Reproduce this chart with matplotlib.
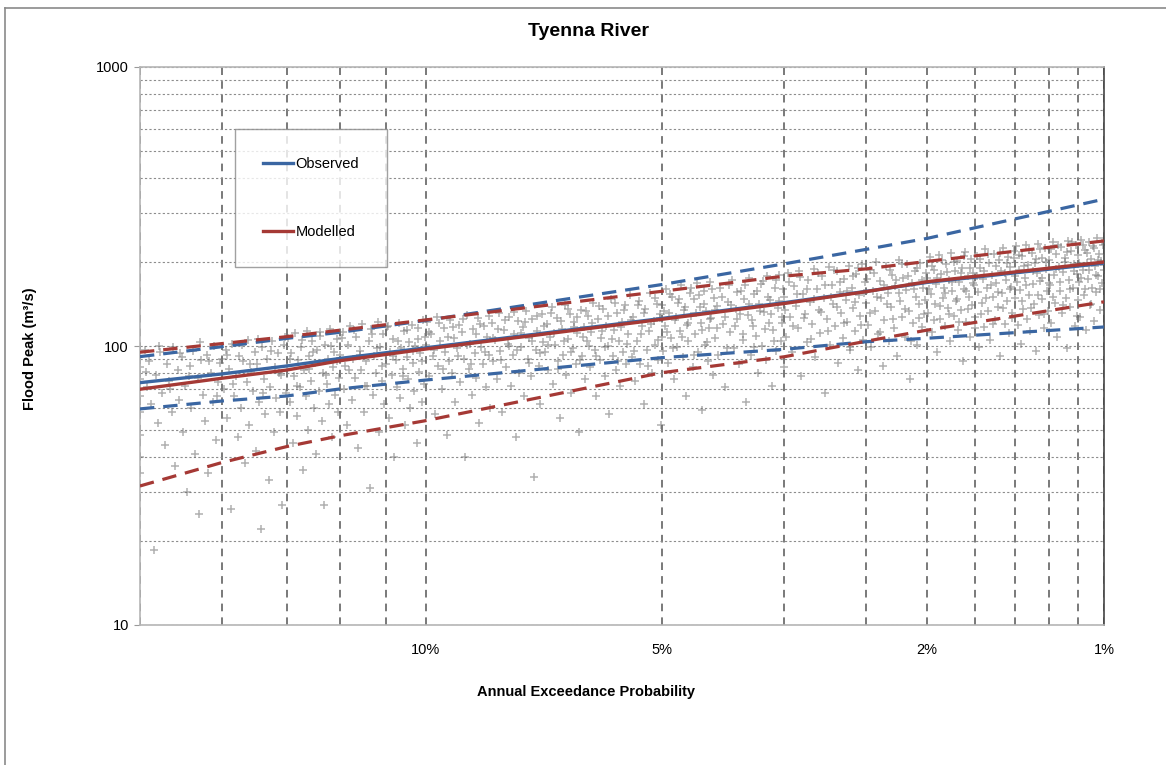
import numpy as np
import matplotlib
matplotlib.use("Agg")
import matplotlib.pyplot as plt
from matplotlib.lines import Line2D
from matplotlib.ticker import FixedLocator, NullFormatter
from statistics import NormalDist

plt.rcParams['font.family'] = ['Liberation Sans', 'DejaVu Sans']

# Fitted curves, flood peak (m3/s) against average recurrence interval (years)
curve_ari = [5, 6, 7, 8, 10, 20, 30, 40, 50, 100]
observed = [73.9, 79.4, 84.8, 90.3, 98.5, 125.5, 143, 157, 169, 198]
observed_upper = [91.6, 99.4, 106.5, 112, 123.5, 166, 197, 222, 243, 336]
observed_lower = [59.5, 63.5, 66.2, 70.2, 75.5, 90.8, 97.3, 103.6, 106.6, 117]
modelled = [70.0, 76.6, 82.0, 88.6, 97.5, 124.6, 142, 156.6, 170, 200]
modelled_upper = [95, 102, 108, 114, 124, 157, 178, 189, 201, 238]
modelled_lower = [31.5, 38.2, 43.6, 47.7, 54.0, 80.2, 91.5, 104, 114, 144]

# Simulated flood peaks (ARI, m3/s)
sim_points = [
    (5.0, 92), (5.0, 84), (5.0, 76), (5.0, 66), (5.0, 58), (5.0, 48), (5.0, 40), (5.0, 35),
    (5.05, 97), (5.08, 71), (5.1, 88), (5.12, 62), (5.15, 18.5), (5.18, 79), (5.2, 53), (5.22, 95),
    (5.25, 68), (5.28, 44), (5.3, 86), (5.33, 75), (5.36, 58), (5.38, 99), (5.4, 37), (5.43, 82),
    (5.45, 64), (5.48, 91), (5.5, 49), (5.52, 72), (5.55, 30), (5.58, 85), (5.6, 60), (5.62, 96),
    (5.65, 41), (5.68, 77), (5.7, 25), (5.72, 89), (5.75, 67), (5.78, 54), (5.8, 93), (5.82, 35),
    (5.85, 80), (5.88, 63), (5.9, 100), (5.92, 46), (5.95, 74), (5.98, 87),
    (6.0, 90), (6.03, 70), (6.06, 97), (6.08, 55), (6.1, 83), (6.13, 26), (6.15, 102), (6.18, 66),
    (6.2, 78), (6.23, 47), (6.25, 92), (6.28, 60), (6.3, 88), (6.33, 38), (6.36, 74), (6.38, 105),
    (6.4, 52), (6.43, 81), (6.45, 69), (6.48, 95), (6.5, 42), (6.52, 86), (6.55, 63), (6.58, 22),
    (6.6, 99), (6.62, 76), (6.65, 57), (6.68, 90), (6.7, 33), (6.72, 71), (6.75, 104), (6.78, 49),
    (6.8, 84), (6.82, 65), (6.85, 94), (6.88, 58), (6.9, 79), (6.92, 27), (6.95, 101), (6.98, 68),
    (7.0, 85), (7.03, 107), (7.05, 63), (7.08, 94), (7.1, 45), (7.13, 78), (7.15, 111), (7.18, 56),
    (7.2, 89), (7.23, 71), (7.25, 99), (7.28, 36), (7.3, 82), (7.33, 66), (7.35, 113), (7.38, 50),
    (7.4, 92), (7.43, 75), (7.45, 104), (7.48, 60), (7.5, 87), (7.53, 41), (7.55, 97), (7.58, 69),
    (7.6, 109), (7.63, 54), (7.65, 80), (7.68, 27), (7.7, 101), (7.73, 73), (7.75, 90), (7.78, 62),
    (7.8, 115), (7.83, 47), (7.85, 84), (7.88, 95), (7.9, 67), (7.93, 106), (7.96, 58), (7.98, 77),
    (8.0, 93), (8.05, 112), (8.08, 70), (8.1, 85), (8.13, 52), (8.16, 101), (8.2, 118), (8.23, 64),
    (8.26, 90), (8.3, 77), (8.33, 108), (8.36, 43), (8.4, 96), (8.43, 82), (8.46, 120), (8.5, 58),
    (8.53, 88), (8.56, 72), (8.6, 104), (8.63, 31), (8.66, 115), (8.7, 67), (8.73, 92), (8.76, 80),
    (8.8, 122), (8.83, 49), (8.86, 99), (8.9, 75), (8.93, 110), (8.96, 62), (9.0, 86), (9.03, 117),
    (9.06, 55), (9.1, 95), (9.13, 79), (9.16, 106), (9.2, 40), (9.23, 89), (9.26, 71), (9.3, 121),
    (9.33, 65), (9.36, 98), (9.4, 83), (9.43, 113), (9.46, 52), (9.5, 91), (9.53, 76), (9.56, 103),
    (9.6, 60), (9.63, 119), (9.66, 87), (9.7, 69), (9.73, 100), (9.76, 45), (9.8, 116), (9.83, 81),
    (9.86, 94), (9.9, 63), (9.93, 124), (9.96, 73), (9.98, 108),
    (10.0, 101), (10.05, 122), (10.1, 78), (10.15, 110), (10.2, 92), (10.25, 57), (10.3, 127),
    (10.35, 85), (10.4, 104), (10.45, 70), (10.5, 116), (10.55, 95), (10.6, 48), (10.65, 88),
    (10.7, 124), (10.75, 80), (10.8, 107), (10.85, 63), (10.9, 98), (10.95, 119), (11.0, 74),
    (11.05, 112), (11.1, 90), (11.15, 40), (11.2, 129), (11.25, 83), (11.3, 102), (11.35, 67),
    (11.4, 115), (11.45, 94), (11.5, 77), (11.55, 126), (11.6, 53), (11.65, 99), (11.7, 86),
    (11.75, 118), (11.8, 71), (11.85, 108), (11.9, 93), (11.95, 60),
    (12.0, 121), (12.06, 88), (12.12, 105), (12.18, 76), (12.25, 131), (12.3, 96), (12.37, 58),
    (12.43, 114), (12.5, 84), (12.56, 102), (12.62, 127), (12.68, 72), (12.75, 93), (12.81, 110),
    (12.87, 47), (12.93, 123), (13.0, 80), (13.06, 99), (13.12, 117), (13.18, 66), (13.25, 134),
    (13.31, 90), (13.37, 107), (13.43, 78), (13.5, 125), (13.56, 34), (13.62, 97), (13.68, 113),
    (13.75, 85), (13.81, 62), (13.87, 130), (13.93, 103),
    (14.0, 95), (14.07, 120), (14.14, 82), (14.21, 108), (14.28, 138), (14.35, 73), (14.42, 101),
    (14.5, 126), (14.57, 88), (14.64, 55), (14.71, 115), (14.78, 93), (14.85, 140), (14.92, 79),
    (15.0, 106), (15.07, 130), (15.14, 68), (15.21, 98), (15.28, 122), (15.35, 86), (15.42, 111),
    (15.5, 49), (15.57, 135), (15.64, 92), (15.71, 117), (15.78, 76), (15.85, 104), (15.92, 128),
    (16.0, 84), (16.08, 112), (16.16, 143), (16.25, 97), (16.33, 66), (16.41, 125), (16.5, 89),
    (16.58, 107), (16.66, 136), (16.75, 78), (16.83, 118), (16.91, 100), (17.0, 57), (17.08, 147),
    (17.16, 92), (17.25, 114), (17.33, 82), (17.41, 131), (17.5, 104), (17.58, 72), (17.66, 122),
    (17.75, 95), (17.83, 140), (17.91, 86),
    (18.0, 110), (18.1, 152), (18.2, 91), (18.3, 127), (18.4, 75), (18.5, 104), (18.6, 145),
    (18.7, 86), (18.8, 118), (18.9, 62), (19.0, 136), (19.1, 97), (19.2, 113), (19.3, 155),
    (19.4, 80), (19.5, 123), (19.6, 101), (19.7, 142), (19.8, 89), (19.9, 130), (19.95, 52), (20.0, 108),
    (20.0, 140), (20.1, 96), (20.2, 118), (20.3, 160), (20.4, 87), (20.5, 131), (20.6, 107),
    (20.7, 150), (20.8, 76), (20.9, 124), (21.0, 99), (21.1, 143), (21.2, 113), (21.3, 165),
    (21.4, 91), (21.5, 135), (21.6, 66), (21.7, 119), (21.8, 104), (21.9, 155), (22.0, 128),
    (22.1, 84), (22.2, 147), (22.3, 110), (22.4, 168), (22.5, 95), (22.6, 138), (22.7, 121),
    (22.8, 59), (22.9, 158), (23.0, 101), (23.1, 133), (23.2, 88), (23.3, 116), (23.4, 170),
    (23.5, 126), (23.6, 79), (23.7, 149), (23.8, 107), (23.9, 139), (24.0, 93), (24.2, 162),
    (24.4, 120), (24.6, 71), (24.8, 144),
    (25.0, 112), (25.15, 172), (25.3, 98), (25.45, 136), (25.6, 125), (25.75, 86), (25.9, 158),
    (26.05, 105), (26.2, 147), (26.35, 63), (26.5, 129), (26.65, 176), (26.8, 93), (26.95, 118),
    (27.1, 153), (27.25, 109), (27.4, 80), (27.55, 141), (27.7, 167), (27.85, 100), (28.0, 132),
    (28.15, 89), (28.3, 178), (28.45, 121), (28.6, 146), (28.75, 72), (28.9, 114), (29.05, 161),
    (29.2, 96), (29.35, 137), (29.5, 180), (29.65, 104), (29.8, 127), (29.95, 84),
    (30.0, 150), (30.2, 108), (30.4, 183), (30.6, 127), (30.8, 95), (31.0, 164), (31.2, 139),
    (31.4, 116), (31.6, 186), (31.8, 78), (32.0, 153), (32.2, 130), (32.4, 103), (32.6, 172),
    (32.8, 144), (33.0, 120), (33.2, 189), (33.4, 91), (33.6, 160), (33.8, 135), (34.0, 111),
    (34.2, 178), (34.4, 149), (34.6, 68), (34.8, 125), (35.0, 192), (35.2, 101), (35.4, 166),
    (35.6, 141), (35.8, 118), (36.0, 185), (36.2, 87), (36.4, 156), (36.6, 131), (36.8, 107),
    (37.0, 174), (37.2, 146), (37.4, 122), (37.6, 194), (37.8, 97), (38.0, 162), (38.2, 137),
    (38.4, 113), (38.6, 181), (38.8, 82), (39.0, 152), (39.2, 128), (39.4, 197), (39.6, 105),
    (39.8, 169),
    (40.0, 143), (40.25, 119), (40.5, 188), (40.75, 99), (41.0, 158), (41.25, 133), (41.5, 200),
    (41.75, 110), (42.0, 171), (42.25, 148), (42.5, 85), (42.75, 124), (43.0, 193), (43.25, 155),
    (43.5, 104), (43.75, 138), (44.0, 180), (44.25, 116), (44.5, 164), (44.75, 92), (45.0, 203),
    (45.25, 145), (45.5, 127), (45.75, 175), (46.0, 108), (46.25, 159), (46.5, 196), (46.75, 134),
    (47.0, 76), (47.25, 168), (47.5, 121), (47.75, 186), (48.0, 150), (48.25, 101), (48.5, 141),
    (48.75, 199), (49.0, 117), (49.25, 162), (49.5, 130), (49.75, 183),
    (50.0, 176), (50.25, 131), (50.5, 208), (50.75, 153), (51.0, 112), (51.25, 188), (51.5, 142),
    (51.75, 167), (52.0, 95), (52.25, 212), (52.5, 125), (52.75, 181), (53.0, 149), (53.25, 162),
    (53.5, 118), (53.75, 196), (54.0, 137), (54.25, 172), (54.5, 104), (54.75, 215), (55.0, 157),
    (55.25, 128), (55.5, 185), (55.75, 145), (56.0, 201), (56.25, 114), (56.5, 170), (56.75, 135),
    (57.0, 191), (57.25, 88), (57.5, 160), (57.75, 218), (58.0, 122), (58.25, 178), (58.5, 150),
    (58.75, 108), (59.0, 205), (59.25, 140), (59.5, 183), (59.75, 165),
    (60.0, 127), (60.3, 210), (60.6, 156), (60.9, 99), (61.2, 190), (61.5, 143), (61.8, 174),
    (62.1, 117), (62.4, 222), (62.7, 161), (63.0, 133), (63.3, 198), (63.6, 105), (63.9, 180),
    (64.2, 150), (64.5, 214), (64.8, 124), (65.1, 168), (65.4, 138), (65.7, 203), (66.0, 92),
    (66.3, 186), (66.6, 155), (66.9, 225), (67.2, 120), (67.5, 173), (67.8, 145), (68.1, 208),
    (68.4, 111), (68.7, 192), (69.0, 163), (69.3, 131), (69.6, 219), (69.9, 178),
    (70.0, 148), (70.35, 228), (70.7, 119), (71.0, 187), (71.35, 159), (71.7, 102), (72.0, 211),
    (72.35, 136), (72.7, 176), (73.0, 230), (73.35, 125), (73.7, 195), (74.0, 152), (74.35, 113),
    (74.7, 216), (75.0, 167), (75.35, 141), (75.7, 199), (76.0, 96), (76.35, 183), (76.7, 232),
    (77.0, 129), (77.35, 171), (77.7, 206), (78.0, 147), (78.35, 116), (78.7, 224), (79.0, 189),
    (79.35, 157), (79.7, 134),
    (80.0, 203), (80.4, 165), (80.8, 121), (81.2, 235), (81.6, 179), (82.0, 143), (82.4, 214),
    (82.8, 108), (83.2, 192), (83.6, 158), (84.0, 226), (84.4, 131), (84.8, 184), (85.2, 207),
    (85.6, 149), (86.0, 98), (86.4, 238), (86.8, 172), (87.2, 138), (87.6, 219), (88.0, 161),
    (88.4, 196), (88.8, 118), (89.2, 231), (89.6, 181), (89.9, 146),
    (90.0, 212), (90.4, 169), (90.8, 127), (91.2, 240), (91.6, 188), (92.0, 152), (92.4, 221),
    (92.8, 114), (93.2, 199), (93.6, 174), (94.0, 236), (94.4, 140), (94.8, 205), (95.2, 162),
    (95.6, 228), (96.0, 123), (96.4, 193), (96.8, 156), (97.2, 243), (97.6, 178), (98.0, 214),
    (98.4, 135), (98.8, 201), (99.2, 168), (99.6, 230), (100.0, 187),
]

# Second batch of simulated peaks, mostly inside the central band
sim_points_b = [
    (5.07, 81), (5.21, 100), (5.34, 70), (5.46, 94), (5.57, 78), (5.71, 103), (5.83, 88), (5.94, 66),
    (6.07, 93), (6.16, 73), (6.29, 101), (6.41, 86), (6.53, 106), (6.61, 68), (6.74, 96), (6.87, 80),
    (6.97, 108), (7.06, 90), (7.17, 72), (7.27, 105), (7.39, 83), (7.47, 95), (7.59, 112), (7.71, 79),
    (7.82, 100), (7.94, 88), (8.03, 107), (8.18, 82), (8.29, 114), (8.41, 93), (8.52, 72), (8.68, 110),
    (8.79, 98), (8.91, 85), (9.04, 118), (9.17, 92), (9.29, 104), (9.41, 78), (9.52, 114), (9.67, 96),
    (9.79, 106), (9.91, 88),
    (10.08, 112), (10.22, 97), (10.37, 121), (10.49, 83), (10.63, 108), (10.78, 117), (10.92, 92),
    (11.07, 125), (11.19, 101), (11.33, 86), (11.48, 110), (11.61, 120), (11.77, 95), (11.91, 128),
    (12.04, 107), (12.21, 115), (12.34, 89), (12.47, 124), (12.63, 100), (12.79, 132), (12.91, 97),
    (13.04, 111), (13.21, 122), (13.36, 87), (13.47, 104), (13.66, 128), (13.79, 94), (13.96, 118),
    (14.11, 101), (14.26, 131), (14.39, 111), (14.55, 83), (14.68, 123), (14.83, 104), (14.97, 136),
    (15.11, 95), (15.26, 117), (15.4, 127), (15.55, 89), (15.69, 108), (15.83, 133), (15.97, 100),
    (16.12, 121), (16.29, 92), (16.45, 139), (16.61, 113), (16.79, 99), (16.94, 128), (17.12, 106),
    (17.29, 143), (17.45, 88), (17.62, 117), (17.79, 135), (17.95, 102), (18.15, 124), (18.34, 96),
    (18.55, 140), (18.74, 110), (18.95, 131), (19.15, 85), (19.36, 120), (19.56, 148), (19.76, 105),
    (19.93, 126),
    (20.15, 133), (20.36, 112), (20.55, 154), (20.77, 98), (20.95, 127), (21.17, 147), (21.38, 108),
    (21.55, 138), (21.77, 121), (21.96, 162), (22.17, 93), (22.36, 131), (22.55, 152), (22.77, 114),
    (22.96, 142), (23.17, 103), (23.38, 125), (23.55, 160), (23.77, 135), (23.96, 116), (24.3, 150),
    (24.55, 127), (24.7, 98), (24.9, 165), (25.1, 140), (25.37, 118), (25.55, 156), (25.82, 130),
    (26.1, 110), (26.27, 166), (26.58, 142), (26.87, 124), (27.05, 99), (27.33, 158), (27.6, 134),
    (27.92, 171), (28.1, 115), (28.37, 150), (28.67, 130), (28.97, 104), (29.12, 173), (29.42, 145),
    (29.73, 121), (29.9, 160),
    (30.1, 135), (30.5, 170), (30.9, 118), (31.3, 153), (31.7, 177), (32.1, 126), (32.5, 160),
    (32.9, 106), (33.3, 147), (33.7, 182), (34.1, 132), (34.5, 165), (34.9, 113), (35.3, 150),
    (35.7, 187), (36.1, 138), (36.5, 170), (36.9, 121), (37.3, 158), (37.7, 99), (38.1, 178),
    (38.5, 144), (38.9, 190), (39.3, 119), (39.7, 155), (40.1, 174), (40.6, 131), (41.1, 182),
    (41.6, 150), (42.1, 112), (42.6, 165), (43.1, 141), (43.6, 188), (44.1, 125), (44.6, 172),
    (45.1, 155), (45.6, 196), (46.1, 136), (46.6, 178), (47.1, 104), (47.6, 160), (48.1, 190),
    (48.6, 126), (49.1, 172), (49.6, 146),
    (50.4, 160), (50.9, 194), (51.4, 124), (51.9, 176), (52.4, 139), (52.9, 203), (53.4, 155),
    (53.9, 184), (54.4, 130), (54.9, 169), (55.4, 200), (55.9, 147), (56.4, 122), (56.9, 182),
    (57.4, 210), (57.9, 158), (58.4, 136), (58.9, 190), (59.4, 168), (59.9, 116), (60.5, 178),
    (61.0, 205), (61.4, 130), (62.0, 185), (62.6, 148), (63.1, 213), (63.7, 166), (64.3, 120),
    (64.9, 193), (65.5, 156), (66.1, 216), (66.7, 137), (67.3, 182), (67.9, 199), (68.5, 160),
    (69.1, 126), (69.7, 206), (70.5, 170), (71.2, 212), (71.9, 145), (72.5, 193), (73.2, 166),
    (73.9, 221), (74.5, 137), (75.2, 185), (75.9, 205), (76.5, 152), (77.2, 222), (77.9, 176),
    (78.5, 130), (79.2, 200), (79.9, 168), (80.6, 222), (81.4, 150), (82.2, 189), (83.0, 230),
    (83.8, 170), (84.6, 140), (85.4, 200), (86.2, 218), (87.0, 160), (87.8, 236), (88.6, 185),
    (89.4, 128), (90.2, 199), (91.0, 176), (91.8, 231), (92.6, 160), (93.4, 215), (94.2, 188),
    (95.0, 141), (95.8, 225), (96.6, 180), (97.4, 204), (98.2, 160), (99.0, 238), (99.8, 195),
]

tick_ari = [10, 20, 50, 100]
tick_labels = ['10%', '5%', '2%', '1%']
grid_ari = [5, 6, 7, 8, 9, 30, 40, 60, 70, 80, 90]

BLUE = '#3A66A2'
RED = '#A53935'

# normal probability axis: ARI -> standard normal quantile of non-exceedance
_nd = NormalDist()
_ppf = np.vectorize(_nd.inv_cdf, otypes=[float])
_cdf = np.vectorize(_nd.cdf, otypes=[float])


def ari_to_z(ari):
    ari = np.clip(np.asarray(ari, dtype=float), 1.0001, 1e7)
    return _ppf(1.0 - 1.0 / ari)


def z_to_ari(z):
    z = np.clip(np.asarray(z, dtype=float), -8, 5)
    return 1.0 / (1.0 - _cdf(z))


fig = plt.figure(figsize=(11.66, 7.65), dpi=100)
ax = fig.add_axes([140 / 1166, 140 / 765, 964 / 1166, 558 / 765])

ax.set_xscale('function', functions=(ari_to_z, z_to_ari))
ax.set_yscale('log')
ax.set_xlim(5, 100)
ax.set_ylim(10, 1000)

pts = np.array(sim_points + sim_points_b)
ax.scatter(pts[:, 0], pts[:, 1], marker='+', s=26, linewidths=1.1,
           color='#6f6f6f', alpha=0.55, zorder=2)

dash = (0, (4.5, 2.8))
ax.plot(curve_ari, observed_upper, color=BLUE, lw=2.3, ls=dash, zorder=3)
ax.plot(curve_ari, observed_lower, color=BLUE, lw=2.3, ls=dash, zorder=3)
ax.plot(curve_ari, modelled_upper, color=RED, lw=2.3, ls=dash, zorder=3)
ax.plot(curve_ari, modelled_lower, color=RED, lw=2.3, ls=dash, zorder=3)
ax.plot(curve_ari, observed, color=BLUE, lw=2.4, zorder=4, label='Observed')
ax.plot(curve_ari, modelled, color=RED, lw=2.4, zorder=5, label='Modelled')

# axis ticks and grid
ax.xaxis.set_major_locator(FixedLocator(tick_ari))
ax.set_xticklabels(tick_labels)
ax.xaxis.set_minor_locator(FixedLocator(grid_ari))
ax.xaxis.set_minor_formatter(NullFormatter())
ax.tick_params(axis='x', which='both', length=0, labelsize=10.5, pad=13)
ax.tick_params(axis='y', which='major', length=4, color='#9a9a9a', labelsize=10.5, pad=4)
ax.tick_params(axis='y', which='minor', length=0)
ax.set_yticks([10, 100, 1000])
ax.set_yticklabels(['10', '100', '1000'])

ax.grid(which='both', axis='y', color='#8c8c8c', lw=0.8, ls=(0, (2, 2)))
ax.grid(which='both', axis='x', color='#555555', lw=1.1, ls=(0, (5, 4)))
ax.set_axisbelow(True)

for side in ['left', 'top', 'bottom']:
    ax.spines[side].set_color('#b5b5b5')
    ax.spines[side].set_linewidth(1.2)
ax.spines['right'].set_color('#444444')
ax.spines['right'].set_linewidth(1.2)

leg = ax.legend(loc='upper left', bbox_to_anchor=(0.0985, 0.889), borderaxespad=0,
                fontsize=10.5, frameon=True, fancybox=False, edgecolor='#8a8a8a',
                borderpad=1.9, labelspacing=3.75, handlelength=2.1, handletextpad=0.15)
leg.get_frame().set_linewidth(1.0)

fig.text(589 / 1166, 1 - 31 / 765, 'Tyenna River', ha='center', va='center',
         fontsize=14, fontweight='bold')
fig.text(586 / 1166, 1 - 692 / 765, 'Annual Exceedance Probability', ha='center', va='center',
         fontsize=10.5, fontweight='bold')
fig.text(30 / 1166, 1 - 349 / 765, 'Flood Peak (m³/s)', ha='center', va='center',
         rotation=90, fontsize=10.5, fontweight='bold')

# outer chart frame
fig.add_artist(Line2D([5 / 1166, 5 / 1166], [0, 1 - 8 / 765], color='#8a8a8a', lw=1.2))
fig.add_artist(Line2D([5 / 1166, 1], [1 - 8 / 765, 1 - 8 / 765], color='#8a8a8a', lw=1.2))

fig.savefig('out.png', dpi=100)
